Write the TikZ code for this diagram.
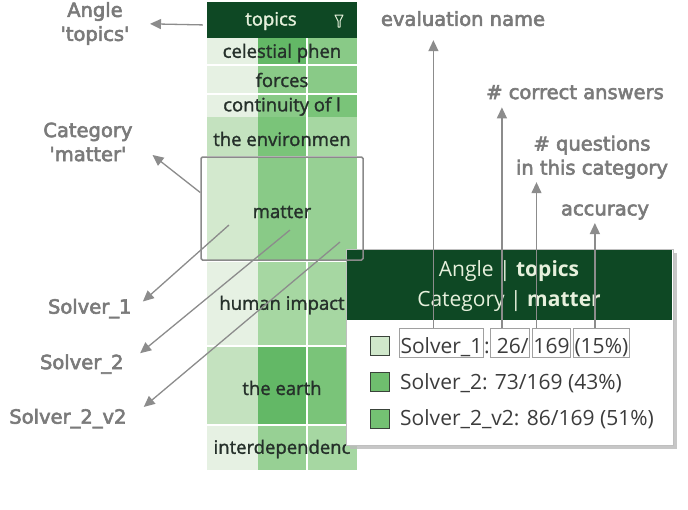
\documentclass[tikz,border=0pt]{standalone}
\usepackage{fontspec}
\usepackage{tikz}
\usetikzlibrary{arrows.meta}

\newfontfamily\osans{Open Sans}
\newfontfamily\cellfont{Open Sans}[FakeBold=1.5]
\newfontfamily\lblfont{DejaVu Sans}[FakeBold=3]

\definecolor{hdrgreen}{HTML}{0E4824}
\definecolor{hdrtext}{HTML}{E6F0DC}
\definecolor{lblgray}{HTML}{7A7A7A}
\definecolor{arrgray}{HTML}{8C8C8C}
\definecolor{txtdark}{HTML}{25302A}
\definecolor{tipdark}{HTML}{3C3C3C}
\definecolor{hlgray}{HTML}{8A8A8A}
\definecolor{boxgray}{HTML}{A0A0A0}
\definecolor{swborder}{HTML}{3A433A}
\definecolor{g1}{HTML}{E6F1E3}
\definecolor{g2}{HTML}{D3E9CE}
\definecolor{g3}{HTML}{C4E2BF}
\definecolor{g4}{HTML}{A6D7A2}
\definecolor{g5}{HTML}{97D094}
\definecolor{g6}{HTML}{89CA87}
\definecolor{g7}{HTML}{7AC479}
\definecolor{g8}{HTML}{63B866}
\definecolor{sw1}{HTML}{D0E8CB}
\definecolor{sw2}{HTML}{6FBE6E}
\definecolor{sw3}{HTML}{74C173}

\begin{document}
\begin{tikzpicture}[x=1pt,y=-1pt,
    lbl/.style={font=\lblfont\fontsize{19.5}{24}\selectfont, text=lblgray, align=center},
    arr/.style={draw=arrgray, line width=1.3pt, -{Triangle[length=11pt,width=10pt]}},
    cell/.style={font=\cellfont\fontsize{18.5}{20}\selectfont, text=txtdark},
    tiptxt/.style={font=\osans\fontsize{21}{30}\selectfont, text=tipdark},
    tbox/.style={tiptxt, draw=boxgray, line width=1pt, anchor=base west, inner xsep=1pt, inner ysep=2.5pt, text height=22pt, text depth=2pt},
    swatch/.style={draw=swborder, line width=1pt, minimum size=19pt, inner sep=0pt},
    rowline/.style={white, line width=1.2pt}]
    \fill[white] (0,0) rectangle (688,509);
    \useasboundingbox (0,0) rectangle (688,509);

%col 1 Solver_1
%col 2 Solver_2
%col 3 Solver_2_v2

    \fill[g1] (207,38) rectangle (258,65); \fill[g8] (258,38) rectangle (307,65); \fill[g6] (307,38) rectangle (357,65); % celestial phen
    \fill[g1] (207,65) rectangle (258,94); \fill[g6] (258,65) rectangle (307,94); \fill[g6] (307,65) rectangle (357,94); % forces
    \fill[g1] (207,94) rectangle (258,117); \fill[g6] (258,94) rectangle (307,117); \fill[g7] (307,94) rectangle (357,117); % continuity
    \fill[g3] (207,117) rectangle (258,157); \fill[g7] (258,117) rectangle (307,157); \fill[g4] (307,117) rectangle (357,157); % environment
    \fill[g2] (207,157) rectangle (258,261); \fill[g6] (258,157) rectangle (307,261); \fill[g5] (307,157) rectangle (357,261); % matter
    \fill[g1] (207,261) rectangle (258,346); \fill[g4] (258,261) rectangle (307,346); \fill[g4] (307,261) rectangle (357,346); % human impact
    \fill[g3] (207,346) rectangle (258,425); \fill[g8] (258,346) rectangle (307,425); \fill[g7] (307,346) rectangle (357,425); % the earth
    \fill[g1] (207,425) rectangle (258,470); \fill[g5] (258,425) rectangle (307,470); \fill[g4] (307,425) rectangle (357,470); % interdependence

    \draw[rowline] (207,65) -- (357,65); \draw[rowline] (207,94) -- (357,94);
    \draw[rowline] (207,157) -- (357,157); \draw[rowline] (207,261) -- (357,261);
    \draw[rowline] (207,346) -- (357,346); \draw[rowline] (207,425) -- (357,425);
    \draw[rowline] (307,38) -- (307,470); % column gap

    \node[fill=hdrgreen, minimum width=150pt, minimum height=36pt, inner sep=0pt] (H) at (282,20) {}; % header
    \node[cell, text=hdrtext] (HT) at (271,21) {topics};
    \draw[hdrtext, line width=1pt, line join=round] (335,15) -- (343,15) -- (340,21) -- (340,27) -- (338,27) -- (338,21) -- cycle; % filter

    \node[cell] (R1) at (282,53) {celestial phen};
    \node[cell] (R2) at (282,80) {forces};
    \node[cell] (R3) at (282,106.5) {continuity of l};
    \node[cell] (R4) at (282,139) {the environmen};
    \node[cell] (R5) at (282,212) {matter};
    \node[cell] (R6) at (282,305) {human impact};
    \node[cell] (R7) at (282,388) {the earth};
    \node[cell] (R8) at (282,449) {interdependenc};

    \fill[gray!55, opacity=0.8] (350,253) rectangle (677,449); % shadow
    \draw[gray!50, fill=white] (346,249) rectangle (673,445); % tooltip
    \fill[hdrgreen] (347,250) rectangle (672,320); % tooltip head
    \node[tiptxt, text=hdrtext, align=center] (TT) at (509,286) {Angle | \textbf{topics}\\Category | \textbf{matter}};

    \node[swatch, fill=sw1] (W1) at (380,346) {};
    \node[swatch, fill=sw2] (W2) at (380,382) {};
    \node[swatch, fill=sw3] (W3) at (380,418.5) {};

    \node[tbox] (B1) at (399,353) {Solver\_1};
    \node[tiptxt, anchor=base west, inner sep=0pt] (C1) at (B1.base east) {:};
    \node[tbox] (B2) at (C1.base east) {\ 26/};
    \node[tbox, xshift=2pt] (B3) at (B2.base east) {169};
    \node[tbox, xshift=2pt] (B4) at (B3.base east) {(15\%)};
    \node[tiptxt, anchor=base west, inner sep=0pt] (T2) at (400,389) {Solver\_2: 73/169 (43\%)};
    \node[tiptxt, anchor=base west, inner sep=0pt] (T3) at (400,425) {Solver\_2\_v2: 86/169 (51\%)};

    \node[draw=hlgray, line width=1.5pt, rounded corners=1.5pt, minimum width=162pt, minimum height=103pt] (HL) at (282,208.5) {}; % matter row

    \node[lbl, anchor=east] (AT) at (133,23.5) {Angle\\\textquotesingle topics\textquotesingle};
    \node[lbl, anchor=east] (CM) at (136,142) {Category\\\textquotesingle matter\textquotesingle};
    \node[lbl, anchor=east] (S1) at (135,308.5) {Solver\_1};
    \node[lbl, anchor=east] (S2) at (127,364) {Solver\_2};
    \node[lbl, anchor=east] (S3) at (130,418.5) {Solver\_2\_v2};
    \node[lbl] (E1) at (463,18.6) {evaluation name};
    \node[lbl] (E2) at (575,92.2) {\# correct answers};
    \node[lbl] (E3) at (592,157.2) {\# questions\\in this category};
    \node[lbl] (E4) at (605,212) {accuracy};

    \coordinate (P1) at (229,225);
    \coordinate (P2) at (290,230);
    \coordinate (P3) at (340,242);

    \draw[arr, shorten <=4pt, shorten >=17pt] ([yshift=-5pt]H.west) -- (AT.east); % angle
    \draw[arr, shorten >=21pt] ([yshift=16pt]HL.west) -- (CM.east); % category
    \draw[arr, shorten >=10.5pt] (P1) -- (S1.east);
    \draw[arr, shorten >=17pt] (P2) -- (S2.east);
    \draw[arr, shorten >=18pt] (P3) -- (S3.east);
    \draw[arr, shorten >=10.5pt] ([xshift=-8pt]B1.north) -- ([xshift=-8pt]B1.north |- E1.south);
    \draw[arr, shorten >=4.5pt] ([xshift=-8pt]B2.north) -- ([xshift=-8pt]B2.north |- E2.south);
    \draw[arr] ([xshift=-15pt]B3.north) -- ([xshift=-15pt]B3.north |- E3.south);
    \draw[arr] ([xshift=-6.5pt]B4.north) -- ([xshift=-6.5pt]B4.north |- E4.south);

\end{tikzpicture}
\end{document}
